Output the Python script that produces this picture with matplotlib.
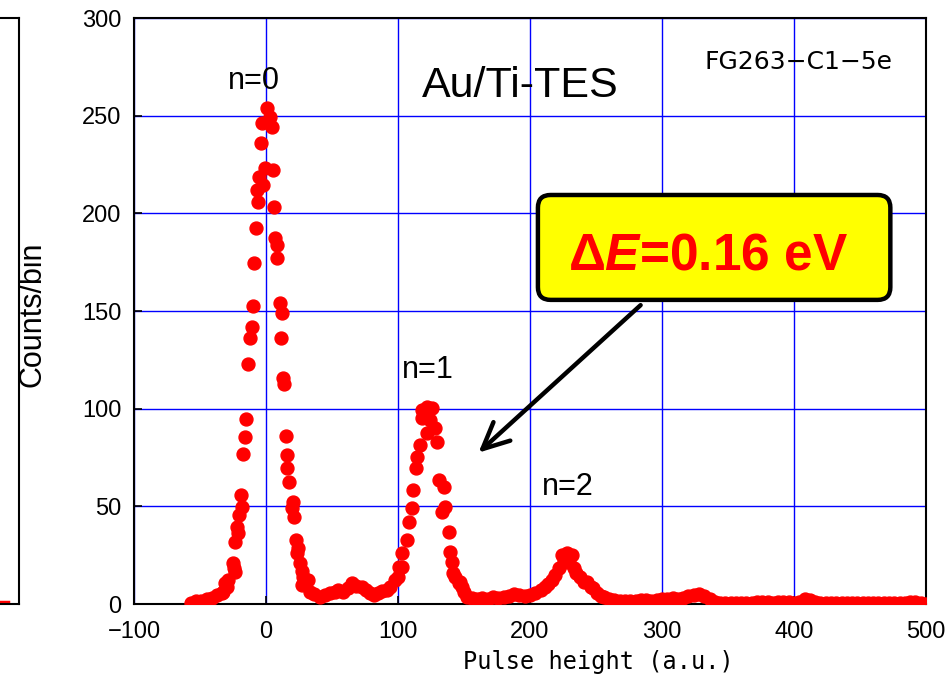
import numpy as np
import matplotlib
matplotlib.use("Agg")
import matplotlib.pyplot as plt
from matplotlib.patches import FancyBboxPatch

plt.rcParams['font.family'] = ['Liberation Sans', 'DejaVu Sans']
plt.rcParams['mathtext.fontset'] = 'custom'
plt.rcParams['mathtext.rm'] = 'Liberation Sans:bold'
plt.rcParams['mathtext.it'] = 'Liberation Sans:italic:bold'
plt.rcParams['mathtext.bf'] = 'Liberation Sans:bold'

# pulse height spectrum
# left baseline and n=0 peak
x_n0 = [-57, -53, -49, -45, -41, -37.4, -33, -32.4, -31.1, -29.8, -28.6,
        -24.8, -24.3, -23.5, -23.5, -21.8, -21.0, -20.3, -19.2, -18.4,
        -17.2, -15.9, -15.2, -13.4, -12.1, -10.9, -9.6, -9.1, -7.8, -7.0,
        -5.8, -5.0, -4.0, -3.3, -2.0, -0.8, 1.0, 3.0, 4.3, 5.5, 6.0, 6.8,
        8.1, 8.6, 10.6, 11.1, 11.9, 13.1, 13.9, 15.2, 15.7, 16.2, 17.7,
        19.5, 20.3, 21.2, 22.8, 23.3, 24.5, 25.8, 27.0, 27.0, 28.3, 32.1]
y_n0 = [0.5, 1.5, 1.5, 2.5, 3.0, 4.6, 5.5, 6.3, 10.6, 8.9, 12.3,
        20.8, 18.3, 31.9, 16.5, 39.6, 36.2, 45.6, 55.8, 49.8,
        76.8, 85.4, 94.6, 122.9, 136, 141.7, 152.8, 174.4, 192.4, 212,
        206, 218.8, 235.9, 246, 214.5, 223, 253.8, 249.5, 244.4, 222, 203.5, 187.2,
        183.8, 177, 154, 136, 148.8, 115.6, 112.6, 86, 69.5, 76.3, 62.6,
        49, 52.4, 44.7, 32.8, 26, 28.5, 20.8, 17, 9.7, 14, 12.3]

# valley and n=1 peak
x_n1 = [33, 36, 41, 45, 48.6, 52, 54.6, 58, 62, 65, 68, 72.6, 76, 79, 82,
        85, 88, 91.6, 94, 97.9, 100, 100.4, 103, 103, 106.8, 108.7, 110.5,
        111.5, 113.8, 114.3, 116.3, 118, 118.1, 121.9, 121.9, 124.4, 125.7,
        128.2, 129.5, 130.7, 133.3, 134.5, 135.8, 138.3, 139.6, 140.9, 142,
        143.4, 146, 147, 148.5, 150, 152.3]
y_n1 = [6.3, 5, 3.7, 4.5, 5.6, 6, 7.2, 6, 8, 10.6, 9, 8.9, 7, 5.6, 4.5,
        5.6, 6.5, 7.2, 8.9, 12.3, 14, 19.1, 19.1, 26, 32.8, 42.2, 49,
        58.4, 69.5, 75.4, 81.4, 95, 99.3, 101, 87.4, 94.2, 100.2,
        90, 83.2, 63.5, 47.3, 60, 49.8, 37, 26.8, 21.7, 15.7,
        14, 11, 11.4, 8.9, 6, 3.7]

# n=2 peak
x_n2 = [156, 160, 164, 168, 172, 176, 180, 184, 188, 192, 196, 200, 204,
        208, 211, 214, 217, 219, 222, 224.4, 226, 228, 228, 230, 232, 233,
        235, 238, 241, 243, 246, 248, 251, 254, 256, 260, 264]
y_n2 = [3.0, 2.5, 3.0, 2.5, 3.5, 3.0, 3.5, 4.0, 5.0, 4.5, 4.0, 4.5, 5.5,
        7.0, 8.5, 10.5, 12.5, 15.0, 18.3, 25, 22, 26, 21.7, 24, 25, 18.3,
        16, 14, 11.5, 11.4, 8.5, 8, 5.5, 4, 3.5, 2.5, 2.0]

# high-energy tail, bins of 4 a.u.
x_tail = np.arange(268, 501, 4)
y_tail = [1.5, 1.5, 1.5, 1.8, 2.2, 2.0, 1.8, 2.2, 2.4, 2.8, 3.2, 2.4, 3.2,
          4.1, 4.8, 5.0, 4.1, 2.7, 1.2, 0.5, 0.4, 0.4, 0.4, 0.4, 0.5, 0.6,
          0.9, 1.0, 0.8, 0.7, 0.9, 1.0, 1.0, 0.6, 1.2, 2.4, 2.0, 1.2, 0.4,
          0.3, 0.3, 0.3, 0.3, 0.3, 0.3, 0.3, 0.3, 0.3, 0.3, 0.3, 0.3, 0.3,
          0.3, 0.3, 0.6, 1.0, 0.8, 0.5, 0.2]

x_all = np.concatenate([x_n0, x_n1, x_n2, x_tail])
y_all = np.concatenate([y_n0, y_n1, y_n2, y_tail])

fig = plt.figure(figsize=(9.51, 6.9), dpi=100)

# cut-off neighbouring panel on the far left
ax0 = fig.add_axes([-0.3, 0.1246, 0.3 + 19 / 951, 0.8493])
ax0.plot([0.93, 0.965], [0.8, 0.8], color='red', lw=2.5)
ax0.set_xlim(0, 1)
ax0.set_ylim(0, 300)
ax0.set_xticks([])
ax0.set_yticks([])
for s in ax0.spines.values():
    s.set_linewidth(1.5)

ax = fig.add_axes([0.1409, 0.1246, 0.8328, 0.8493])
ax.plot(x_all, y_all, 'o', color='red', ms=9.3, mec='red', zorder=3)

ax.set_xlim(-100, 500)
ax.set_ylim(0, 300)
ax.set_xticks(np.arange(-100, 501, 100))
ax.set_yticks(np.arange(0, 301, 50))
ax.grid(True, color='#0000ff', lw=1.0)
ax.set_axisbelow(True)
ax.tick_params(direction='in', length=6, width=1.2, labelsize=17, pad=9)
ax.tick_params(axis='x', pad=12)
for s in ax.spines.values():
    s.set_linewidth(1.5)

ax.set_xlabel('Pulse height (a.u.)', family='DejaVu Sans Mono', fontsize=17)
ax.xaxis.set_label_coords(0.586, -0.078)
fig.text(0.034, 0.545, 'Counts/bin', rotation=90, ha='center', va='center',
         fontsize=22)

ax.text(-9, 268, 'n=0', ha='center', va='center', fontsize=22, zorder=1)
ax.text(123, 120, 'n=1', ha='center', va='center', fontsize=22, zorder=1)
ax.text(229, 60, 'n=2', ha='center', va='center', fontsize=22, zorder=1)
ax.text(193, 265, 'Au/Ti-TES', ha='center', va='center', fontsize=31, zorder=1)
ax.text(403.6, 277.5, 'FG263\u2212C1\u22125e', ha='center', va='center',
        family='DejaVu Sans', fontsize=18, zorder=1)

# annotation box with energy resolution
box = FancyBboxPatch((0.510, 0.519), 0.445, 0.179, transform=ax.transAxes,
                     boxstyle='round,pad=0,rounding_size=0.016',
                     mutation_aspect=792 / 586, fc='yellow', ec='black',
                     lw=3.2, zorder=5)
ax.add_patch(box)
ax.text(229, 171, '\u0394$\\mathit{E}$=0.16 eV', ha='left', va='baseline',
        color='red', fontsize=37, fontweight='bold', zorder=6)

ax.annotate('', xy=(161, 77.5), xytext=(283.8, 153),
            arrowprops=dict(arrowstyle='->,head_length=0.95,head_width=0.45',
                            mutation_scale=20, lw=3.2, color='black',
                            shrinkA=0, shrinkB=0),
            zorder=4)

fig.savefig('out.png', dpi=100)
